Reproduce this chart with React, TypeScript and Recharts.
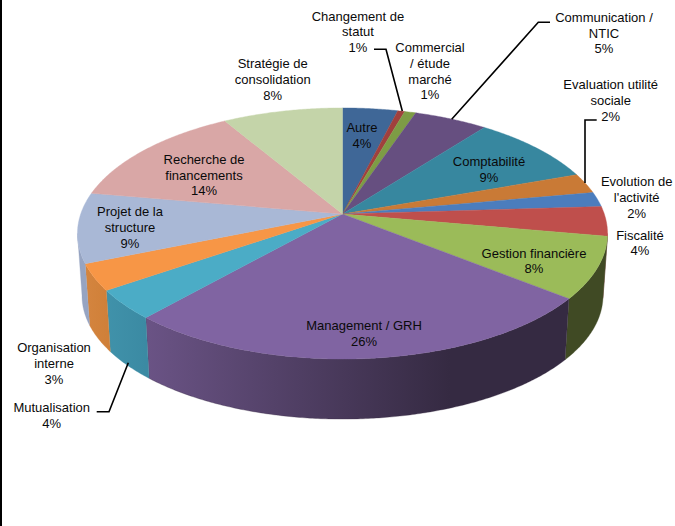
import React from "react";
import { PieChart, Pie } from "recharts";

const names = ["Autre", "Changement de statut", "Commercial / étude marché", "Communication / NTIC", "Comptabilité", "Evaluation utilité sociale", "Evolution de l'activité", "Fiscalité", "Gestion financière", "Management / GRH", "Mutualisation", "Organisation interne", "Projet de la structure", "Recherche de financements", "Stratégie de consolidation"];
const values = [3.9, 0.5, 0.8, 5.2, 9.1, 2.6, 1.9, 3.8, 7.9, 25.8, 3.8, 3.4, 9.0, 13.7, 8.5];
const percents = ["4%", "1%", "1%", "5%", "9%", "2%", "2%", "4%", "8%", "26%", "4%", "3%", "9%", "14%", "8%"];
const labelLines = [
  ["Autre"], ["Changement de", "statut"], ["Commercial", "/ étude", "marché"], ["Communication /", "NTIC"], ["Comptabilité"],
  ["Evaluation utilité", "sociale"], ["Evolution de", "l'activité"], ["Fiscalité"], ["Gestion financière"], ["Management / GRH"],
  ["Mutualisation"], ["Organisation", "interne"], ["Projet de la", "structure"], ["Recherche de", "financements"], ["Stratégie de", "consolidation"],
];
const data = names.map((name, i) => ({ name, value: values[i] }));

const topColors = ["#3f6797", "#a0403d", "#7d9c45", "#664f80", "#37879f", "#c97a36", "#4b7dbd", "#bf4f4c", "#9bbb59", "#8064a2", "#4bacc6", "#f79646", "#a9b8d6", "#d9a7a6", "#c4d4a9"];
const sideColors: string[][] = [
  ["#2f4d72", "#2f4d72"], ["#7a302e", "#7a302e"], ["#5f7734", "#5f7734"], ["#4d3c61", "#4d3c61"], ["#296678", "#296678"],
  ["#985c29", "#985c29"], ["#395e8f", "#395e8f"], ["#6e2d2b", "#6e2d2b"], ["#404a24", "#404a24"], ["#6a5385", "#352a42"],
  ["#4092aa", "#3b8aa3"], ["#d4853f", "#d08039"], ["#96a4c2", "#96a4c2"], ["#a88180", "#a88180"], ["#98a583", "#98a583"],
];
// layout of the data labels: horizontal centre, vertical centre of the first line
const labelPos = [[362, 127.7], [358, 16], [430, 47.7], [604, 17.3], [489, 161.7], [610.7, 84.7], [636.7, 181.7], [640, 235], [534, 253], [364, 325.5], [51.7, 407.7], [54, 347.7], [130, 211.7], [204, 159.3], [272.7, 63.7]];
const leaders: Record<number, number[][]> = {
  1: [[374, 49.3], [386, 49.3], [402.3, 111]],
  3: [[550, 22.3], [538.3, 22.3], [451.7, 119.3]],
  5: [[596.7, 120], [585, 120], [585, 183]],
  10: [[96.7, 411.7], [109, 411.7], [128.3, 362.7]],
};

const K = 0.1554;
const Y_RATIO = 0.468;
const DROP = 62.5;
const BOTTOM_SCALE = 0.983;
const VIS_HI = -8.9;
const VIS_LO = -171.1;

function rim(a: number, cx: number, cy: number, R: number) {
  const r = (a * Math.PI) / 180;
  const w = 1 + K * Math.sin(r);
  return [cx + (R * Math.cos(r)) / w, cy - (R * Y_RATIO * Math.sin(r)) / w];
}
function arcPoints(a1: number, a2: number, cx: number, cy: number, R: number) {
  const n = Math.max(2, Math.ceil(Math.abs(a1 - a2) * 2));
  const pts: number[][] = [];
  for (let i = 0; i <= n; i++) pts.push(rim(a1 + ((a2 - a1) * i) / n, cx, cy, R));
  return pts;
}
const toD = (pts: number[][]) => "M" + pts.map((p) => `${p[0].toFixed(2)},${p[1].toFixed(2)}`).join("L") + "Z";

function TopSlice(props: any) {
  const { cx, cy, outerRadius, startAngle, endAngle, index } = props;
  const pts = [[cx, cy], ...arcPoints(startAngle, endAngle, cx, cy, outerRadius)];
  const c = topColors[index];
  return <path d={toD(pts)} fill={c} stroke={c} strokeWidth={0.4} />;
}
function SideSlice(props: any) {
  const { cx, cy, outerRadius, startAngle, endAngle, index } = props;
  const hi = Math.min(startAngle, VIS_HI);
  const lo = Math.max(endAngle, VIS_LO);
  if (hi <= lo) return <g />;
  const top = arcPoints(hi, lo, cx, cy, outerRadius);
  const bottom = arcPoints(lo, hi, cx, cy + DROP, outerRadius * BOTTOM_SCALE);
  const [c1, c2] = sideColors[index];
  const id = `side-${index}`;
  return (
    <g>
      <defs>
        <linearGradient id={id} gradientUnits="userSpaceOnUse" x1={index === 9 ? 147 : Math.min(top[0][0], top[top.length - 1][0])} x2={index === 9 ? 450 : Math.max(top[0][0], top[top.length - 1][0])} y1={0} y2={0}>
          <stop offset="0" stopColor={c1} />
          <stop offset="1" stopColor={c2} />
        </linearGradient>
      </defs>
      <path d={toD([...top, ...bottom])} fill={`url(#${id})`} stroke={c2} strokeWidth={0.3} />
    </g>
  );
}
function SliceLabel(props: any) {
  const { index } = props;
  const [x, y] = labelPos[index];
  const lines = [...labelLines[index], percents[index]];
  const leader = leaders[index];
  return (
    <g>
      {leader && <polyline points={leader.map((p) => p.join(",")).join(" ")} fill="none" stroke="#000" strokeWidth={1.6} />}
      <text x={x} y={y} textAnchor="middle" fontFamily="Liberation Sans" fontSize={13} fill="#0a0a0a">
        {lines.map((l, i) => (
          <tspan key={i} x={x} y={y + 4.6 + i * 15.6}>{l}</tspan>
        ))}
      </text>
    </g>
  );
}

export default function App() {
  return (
    <div style={{ position: "absolute", left: 0, top: 0, width: 675, height: 526, background: "#fff", overflow: "hidden" }}>
      <div style={{ position: "absolute", left: 0, top: 0, width: 1.5, height: 526, background: "#000" }} />
      <PieChart width={675} height={526} margin={{ top: 0, right: 0, bottom: 0, left: 0 }}>
        <Pie data={data} dataKey="value" nameKey="name" cx={342.5} cy={214} innerRadius={0} outerRadius={261.8} startAngle={90} endAngle={-270} isAnimationActive={false} label={false} labelLine={false} shape={SideSlice} />
        <Pie data={data} dataKey="value" nameKey="name" cx={342.5} cy={214} innerRadius={0} outerRadius={261.8} startAngle={90} endAngle={-270} isAnimationActive={false} label={SliceLabel} labelLine={false} shape={TopSlice} />
      </PieChart>
    </div>
  );
}
